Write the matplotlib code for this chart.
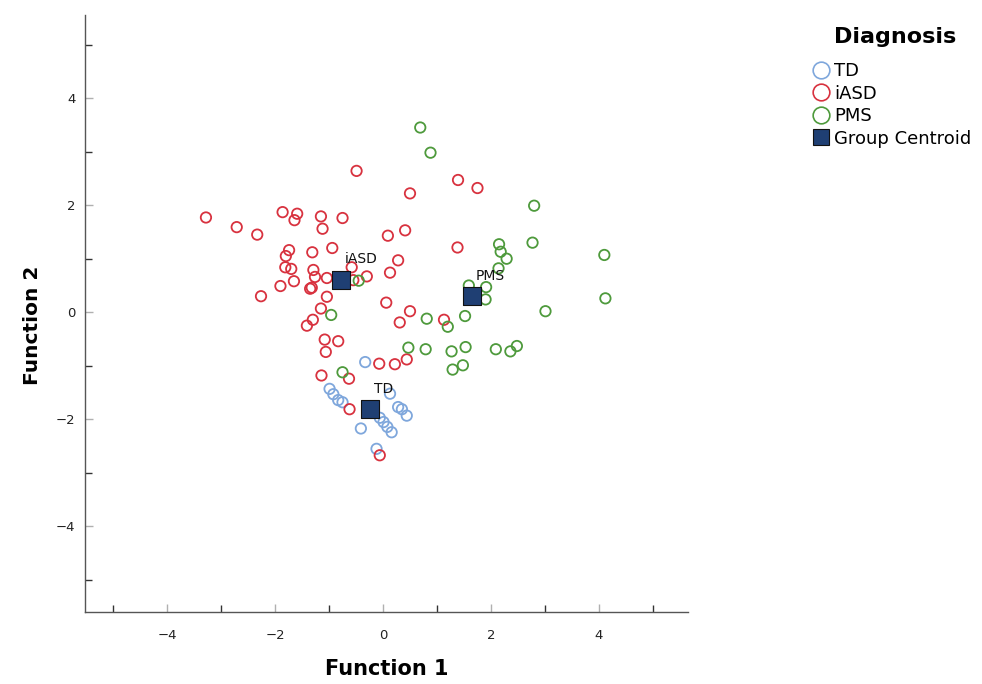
import matplotlib.pyplot as plt
from matplotlib.lines import Line2D
from matplotlib.ticker import FixedLocator

# discriminant scores per group (Function 1, Function 2)
td_x = [-0.33, -0.99, -0.92, -0.83, -0.75, 0.13, 0.28, 0.35, 0.44, -0.06,
        0.01, 0.08, 0.16, -0.41, -0.12]
td_y = [-0.93, -1.43, -1.53, -1.64, -1.68, -1.52, -1.77, -1.81, -1.93, -1.97,
        -2.05, -2.14, -2.24, -2.17, -2.55]

iasd_x = [-0.49, 1.39, 1.75, 0.50, -3.28, -2.71, -2.33, -1.86, -1.59, -1.64,
          -1.15, -1.12, -0.75, 0.09, 0.41, 1.38, -1.74, -1.80, -1.31, -0.94,
          0.28, 0.13, -1.81, -1.70, -1.29, -1.26, -1.04, -1.65, -1.90, -1.35,
          -1.32, -2.26, -0.58, -0.30, -0.55, -1.04, -1.15, -1.30, -1.41, 0.06,
          0.50, 0.31, 1.13, -1.08, -0.83, -1.06, -0.07, 0.22, 0.44, -1.14,
          -0.63, -0.62, -0.06]
iasd_y = [2.64, 2.47, 2.32, 2.22, 1.77, 1.59, 1.45, 1.87, 1.84, 1.72,
          1.79, 1.56, 1.76, 1.43, 1.53, 1.21, 1.16, 1.05, 1.12, 1.20,
          0.97, 0.74, 0.84, 0.81, 0.79, 0.66, 0.64, 0.58, 0.49, 0.44,
          0.46, 0.30, 0.84, 0.67, 0.60, 0.29, 0.07, -0.14, -0.25, 0.18,
          0.02, -0.19, -0.14, -0.51, -0.54, -0.74, -0.96, -0.97, -0.88, -1.18,
          -1.24, -1.81, -2.67]

pms_x = [0.69, 0.88, 2.80, 2.77, 2.15, 2.18, 2.29, 4.10, 2.14, 1.59,
         1.91, 1.90, 4.12, 3.01, -0.96, 0.81, 1.20, 1.52, 0.47, 0.79,
         1.27, 1.53, 2.09, 2.36, 2.48, 1.29, 1.48, -0.75, -0.45]
pms_y = [3.45, 2.98, 1.99, 1.30, 1.27, 1.13, 1.00, 1.07, 0.82, 0.50,
         0.47, 0.24, 0.26, 0.02, -0.05, -0.12, -0.27, -0.07, -0.66, -0.69,
         -0.73, -0.65, -0.69, -0.73, -0.63, -1.07, -0.99, -1.12, 0.59]

centroid_names = ['TD', 'iASD', 'PMS']
centroid_x = [-0.25, -0.78, 1.64]
centroid_y = [-1.81, 0.60, 0.30]

c_td = '#7fa7dc'
c_iasd = '#d8323f'
c_pms = '#4e9a3c'
c_cent = '#1f3f73'

fig = plt.figure(figsize=(9.82, 6.84), dpi=100)
ax = fig.add_axes([0.0866, 0.105, 0.614, 0.873])

kw = dict(s=56, facecolors='none', linewidths=1.3)
ax.scatter(td_x, td_y, edgecolors=c_td, **kw)
ax.scatter(iasd_x, iasd_y, edgecolors=c_iasd, **kw)
ax.scatter(pms_x, pms_y, edgecolors=c_pms, **kw)
ax.scatter(centroid_x, centroid_y, marker='s', s=150, color=c_cent,
           edgecolors='#111111', linewidths=0.8, zorder=5)
for name, cx, cy in zip(centroid_names, centroid_x, centroid_y):
    ax.annotate(name, (cx, cy), xytext=(3, 12), textcoords='offset points',
                fontsize=10, color='#111111', zorder=6)

ax.set_xlim(-5.52, 5.65)
ax.set_ylim(-5.6, 5.55)

for s in ['top', 'right']:
    ax.spines[s].set_visible(False)
for s in ['left', 'bottom']:
    ax.spines[s].set_color('#555555')
    ax.spines[s].set_linewidth(1.0)

ax.xaxis.set_major_locator(FixedLocator([-4, -2, 0, 2, 4]))
ax.xaxis.set_minor_locator(FixedLocator([-5, -3, -1, 1, 3, 5]))
ax.yaxis.set_major_locator(FixedLocator([-4, -2, 0, 2, 4]))
ax.yaxis.set_minor_locator(FixedLocator([-5, -3, -1, 1, 3, 5]))
ax.tick_params(which='major', direction='in', length=6, width=1,
               color='#b0b0b0', labelsize=9.5, labelcolor='#222222')
ax.tick_params(axis='x', which='major', pad=12)
ax.tick_params(axis='y', which='major', pad=7)
ax.tick_params(which='minor', direction='in', length=5, width=1, color='#333333')

ax.set_xlabel('Function 1', fontsize=15, fontweight='bold', labelpad=12)
ax.set_ylabel('Function 2', fontsize=14.5, fontweight='bold')
ax.yaxis.set_label_coords(-0.072, 0.48)

handles = [
    Line2D([], [], marker='o', ls='none', markersize=12, markerfacecolor='none',
           markeredgecolor=c_td, markeredgewidth=1.2, label='TD'),
    Line2D([], [], marker='o', ls='none', markersize=12, markerfacecolor='none',
           markeredgecolor=c_iasd, markeredgewidth=1.2, label='iASD'),
    Line2D([], [], marker='o', ls='none', markersize=12, markerfacecolor='none',
           markeredgecolor=c_pms, markeredgewidth=1.2, label='PMS'),
    Line2D([], [], marker='s', ls='none', markersize=12, markerfacecolor=c_cent,
           markeredgecolor='#111111', markeredgewidth=0.8, label='Group Centroid'),
]
fig.text(895 / 982, 1 - 37 / 684, 'Diagnosis', ha='center', va='center',
         fontsize=16, fontweight='bold')
fig.legend(handles=handles, loc='upper left', bbox_to_anchor=(0.829, 1 - 62 / 684),
           frameon=False, fontsize=13, handlelength=0.8, handletextpad=0.3,
           labelspacing=0.25, borderaxespad=0, borderpad=0)

fig.savefig('out.png', dpi=100)
